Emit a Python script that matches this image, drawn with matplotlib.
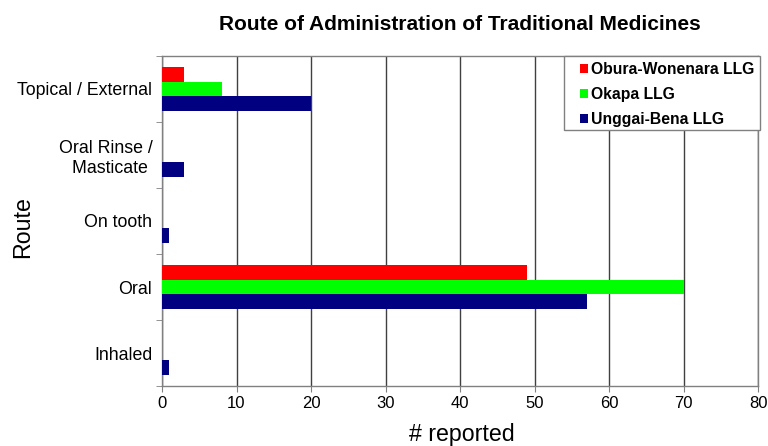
import numpy as np
import matplotlib.pyplot as plt
from matplotlib.patches import Rectangle
from matplotlib.ticker import MultipleLocator, FixedLocator

plt.rcParams['font.family'] = ['Liberation Sans', 'DejaVu Sans']

routes = ["Topical / External", "Oral Rinse /\nMasticate ", "On tooth", "Oral", "Inhaled"]
series = ["Obura-Wonenara LLG", "Okapa LLG", "Unggai-Bena LLG"]
obura = [3, 0, 0, 49, 0]
okapa = [8, 0, 0, 70, 0]
unggai = [20, 3, 1, 57, 1]
colors = ["#FF0000", "#00FF00", "#000080"]

W, H = 768, 446
fig = plt.figure(figsize=(W / 100, H / 100), dpi=100)
ax = fig.add_axes([162 / W, 1 - 386 / H, 596 / W, 330 / H])

y = np.arange(len(routes))
h = 0.227
for k, (vals, name, c) in enumerate(zip([obura, okapa, unggai], series, colors)):
    ax.barh(y + (k - 1) * h, vals, height=h, color=c, label=name, zorder=3)

ax.set_xlim(0, 80)
ax.set_ylim(len(routes) - 0.5, -0.5)
ax.xaxis.set_major_locator(MultipleLocator(10))
ax.grid(axis='x', color='#404040', linewidth=1, zorder=1)

ax.set_yticks(y)
ax.set_yticklabels(routes, fontsize=12.8, ha='right', multialignment='right')
ax.yaxis.set_minor_locator(FixedLocator(np.arange(-0.5, len(routes), 1)))
ax.tick_params(axis='y', which='major', length=0, pad=7)
ax.tick_params(axis='y', which='minor', length=4, color='#808080')
ax.tick_params(axis='x', length=4, color='#808080', labelsize=12, pad=3)

for s in ax.spines.values():
    s.set_color('#808080')
    s.set_linewidth(1)

fig.text(460 / W, 1 - 30.5 / H, "Route of Administration of Traditional Medicines",
         ha='center', va='baseline', fontsize=15, fontweight='bold')
fig.text(462 / W, 1 - 441 / H, "# reported", ha='center', va='baseline', fontsize=16.7)
fig.text(23 / W, 1 - 227 / H, "Route", ha='center', va='center', fontsize=16.7, rotation=90)

# legend frame drawn separately so the left padding can be wider than the right
fig.patches.append(Rectangle((564 / W, 1 - 130 / H), 196 / W, 74 / H, transform=fig.transFigure,
                             facecolor='white', edgecolor='#808080', linewidth=1, zorder=5))
handles, labels = ax.get_legend_handles_labels()
leg = fig.legend(handles, labels, loc='upper left', bbox_to_anchor=(580 / W, 1 - 62 / H),
                 bbox_transform=fig.transFigure, frameon=False, borderaxespad=0, borderpad=0,
                 handlelength=0.5, handleheight=0.5, handletextpad=0.22, labelspacing=0.63,
                 prop={'weight': 'bold', 'size': 11.3})
leg.set_zorder(6)

fig.savefig("out.png", dpi=100)
